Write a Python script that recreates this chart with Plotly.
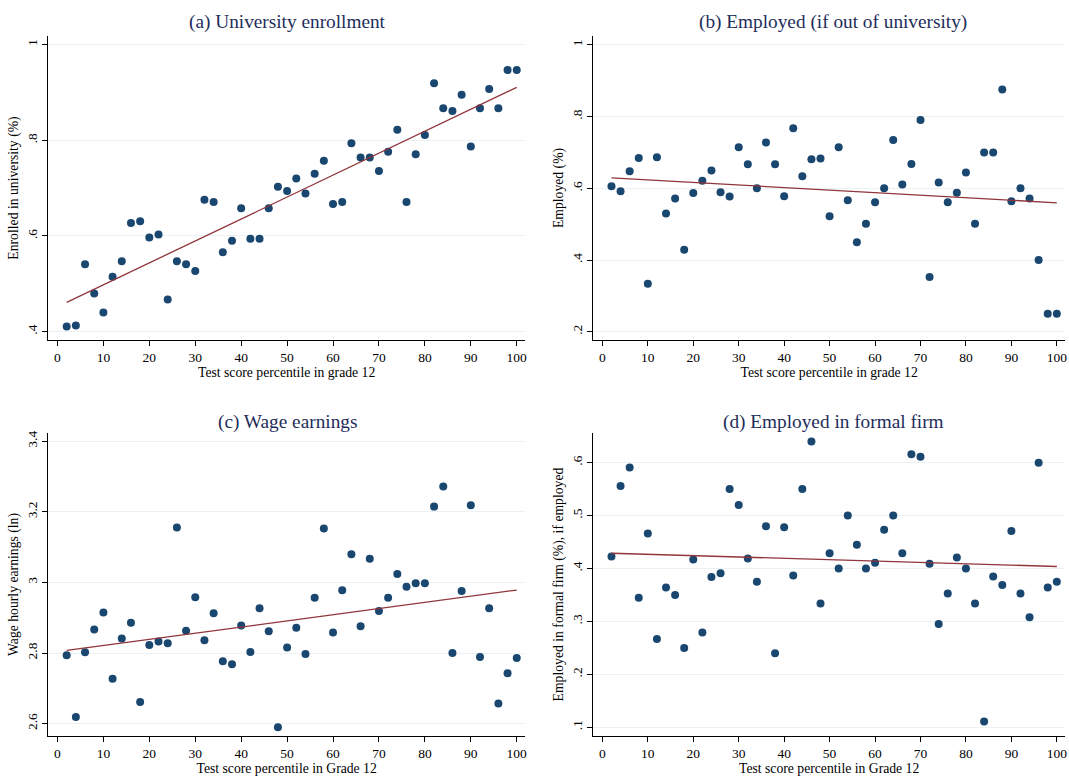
import numpy as np
import plotly.graph_objects as go

pctile = list(range(2, 101, 2))

enrolled = [0.411, 0.413, 0.541, 0.480, 0.440, 0.515, 0.547, 0.627, 0.631, 0.597,
            0.603, 0.467, 0.547, 0.541, 0.527, 0.676, 0.671, 0.566, 0.590, 0.658,
            0.594, 0.594, 0.658, 0.703, 0.694, 0.720, 0.689, 0.730, 0.757, 0.667,
            0.671, 0.794, 0.764, 0.764, 0.736, 0.776, 0.822, 0.671, 0.771, 0.811,
            0.919, 0.867, 0.861, 0.895, 0.787, 0.867, 0.907, 0.867, 0.947, 0.947]

employed = [0.606, 0.592, 0.648, 0.685, 0.334, 0.687, 0.530, 0.572, 0.429, 0.587,
            0.621, 0.650, 0.589, 0.577, 0.715, 0.667, 0.600, 0.728, 0.667, 0.578,
            0.768, 0.634, 0.681, 0.683, 0.522, 0.715, 0.567, 0.450, 0.501, 0.561,
            0.600, 0.735, 0.611, 0.668, 0.791, 0.353, 0.616, 0.561, 0.588, 0.644,
            0.501, 0.700, 0.700, 0.876, 0.564, 0.600, 0.572, 0.400, 0.250, 0.250]

wage = [2.794, 2.619, 2.802, 2.867, 2.915, 2.727, 2.841, 2.886, 2.661, 2.823,
        2.833, 2.828, 3.156, 2.863, 2.958, 2.836, 2.913, 2.777, 2.768, 2.878,
        2.803, 2.927, 2.862, 2.590, 2.816, 2.872, 2.797, 2.957, 3.153, 2.858,
        2.978, 3.080, 2.876, 3.067, 2.919, 2.957, 3.024, 2.988, 2.998, 2.998,
        3.215, 3.272, 2.800, 2.976, 3.219, 2.789, 2.927, 2.657, 2.743, 2.786]

formal = [0.4225, 0.556, 0.591, 0.345, 0.466, 0.267, 0.364, 0.350, 0.250, 0.417,
          0.279, 0.384, 0.391, 0.550, 0.520, 0.419, 0.375, 0.480, 0.240, 0.478,
          0.387, 0.550, 0.640, 0.334, 0.429, 0.400, 0.500, 0.445, 0.400, 0.411,
          0.473, 0.500, 0.429, 0.616, 0.611, 0.409, 0.295, 0.353, 0.421, 0.400,
          0.334, 0.111, 0.385, 0.369, 0.471, 0.353, 0.308, 0.600, 0.364, 0.375]

titles = ["(a) University enrollment", "(b) Employed (if out of university)",
          "(c) Wage earnings", "(d) Employed in formal firm"]
ytitles = ["Enrolled in university (%)", "Employed (%)",
           "Wage hourly earnings (ln)", "Employed in formal firm (%), if employed"]
xtitles = ["Test score percentile in grade 12", "Test score percentile in grade 12",
           "Test score percentile in Grade 12", "Test score percentile in Grade 12"]
xticks = [0, 10, 20, 30, 40, 50, 60, 70, 80, 90, 100]
yticks = [[0.4, 0.6, 0.8, 1.0], [0.2, 0.4, 0.6, 0.8, 1.0],
          [2.6, 2.8, 3.0, 3.2, 3.4], [0.1, 0.2, 0.3, 0.4, 0.5, 0.6]]
yticklabels = [[".4", ".6", ".8", "1"], [".2", ".4", ".6", ".8", "1"],
               ["2.6", "2.8", "3", "3.2", "3.4"], [".1", ".2", ".3", ".4", ".5", ".6"]]
yranges = [[0.3826, 1.018], [0.177, 1.025], [2.565, 3.4235], [0.0836, 0.656]]

series = [enrolled, employed, wage, formal]

W, H = 1069, 776
MARK = "#1a476f"
FIT = "#90353b"
TITLE_C = "#1e2d5a"
FONT = "Liberation Serif"

xdoms = [[48.3 / W, 525 / W], [593.3 / W, 1065 / W],
         [48.3 / W, 525 / W], [593.3 / W, 1065 / W]]
ydoms = [[1 - 340 / H, 1 - 36 / H], [1 - 340 / H, 1 - 36 / H],
         [1 - 736 / H, 1 - 433 / H], [1 - 736 / H, 1 - 433 / H]]
title_y = [1 - 22 / H, 1 - 22 / H, 1 - 422 / H, 1 - 422 / H]
title_x = [287 / W, 833 / W, 287 / W, 833 / W]
xstand = [3, 3, 3, 3]

fig = go.Figure()
x_arr = np.array(pctile, dtype=float)
annotations = []
for i in range(4):
    xa = "x" if i == 0 else f"x{i+1}"
    ya = "y" if i == 0 else f"y{i+1}"
    yv = np.array(series[i])
    fig.add_trace(go.Scatter(x=pctile, y=series[i], mode="markers",
                             marker=dict(color=MARK, size=8, line=dict(width=0)),
                             xaxis=xa, yaxis=ya, showlegend=False))
    slope, icpt = np.polyfit(x_arr, yv, 1)
    fx = [pctile[0], pctile[-1]]
    fy = [icpt + slope * v for v in fx]
    fig.add_trace(go.Scatter(x=fx, y=fy, mode="lines",
                             line=dict(color=FIT, width=1.3),
                             xaxis=xa, yaxis=ya, showlegend=False))
    xkey = "xaxis" if i == 0 else f"xaxis{i+1}"
    ykey = "yaxis" if i == 0 else f"yaxis{i+1}"
    fig.update_layout(**{
        xkey: dict(domain=xdoms[i], anchor=ya, range=[-2, 101.8],
                   tickvals=xticks, ticks="outside", ticklen=5, tickcolor="#000",
                   ticklabeloverflow="allow",
                   showline=True, linecolor="#000", linewidth=1,
                   showgrid=False, zeroline=False, automargin=False,
                   tickfont=dict(family=FONT, size=13.5, color="#000"),
                   title=dict(text=xtitles[i], standoff=xstand[i],
                              font=dict(family=FONT, size=13.7, color="#000"))),
        ykey: dict(domain=ydoms[i], anchor=xa, range=yranges[i],
                   tickvals=yticks[i], ticktext=yticklabels[i], tickangle=-90,
                   ticks="outside", ticklen=5, tickcolor="#000",
                   showline=True, linecolor="#000", linewidth=1,
                   showgrid=True, gridcolor="#eaf2f3", gridwidth=1,
                   zeroline=False, automargin=False,
                   tickfont=dict(family=FONT, size=13.5, color="#000"),
                   title=dict(text=ytitles[i], standoff=3,
                              font=dict(family=FONT, size=13.7, color="#000"))),
    })
    annotations.append(dict(text=titles[i], x=title_x[i], y=title_y[i],
                            xref="paper", yref="paper", showarrow=False,
                            xanchor="center", yanchor="middle",
                            font=dict(family=FONT, size=19.3, color=TITLE_C)))

fig.update_layout(width=W, height=H, margin=dict(l=0, r=0, t=0, b=0),
                  paper_bgcolor="white", plot_bgcolor="white",
                  annotations=annotations)
fig.write_html("out.html", config={"displayModeBar": False},
               post_script="document.body.style.margin='0';document.body.style.overflow='hidden';")
